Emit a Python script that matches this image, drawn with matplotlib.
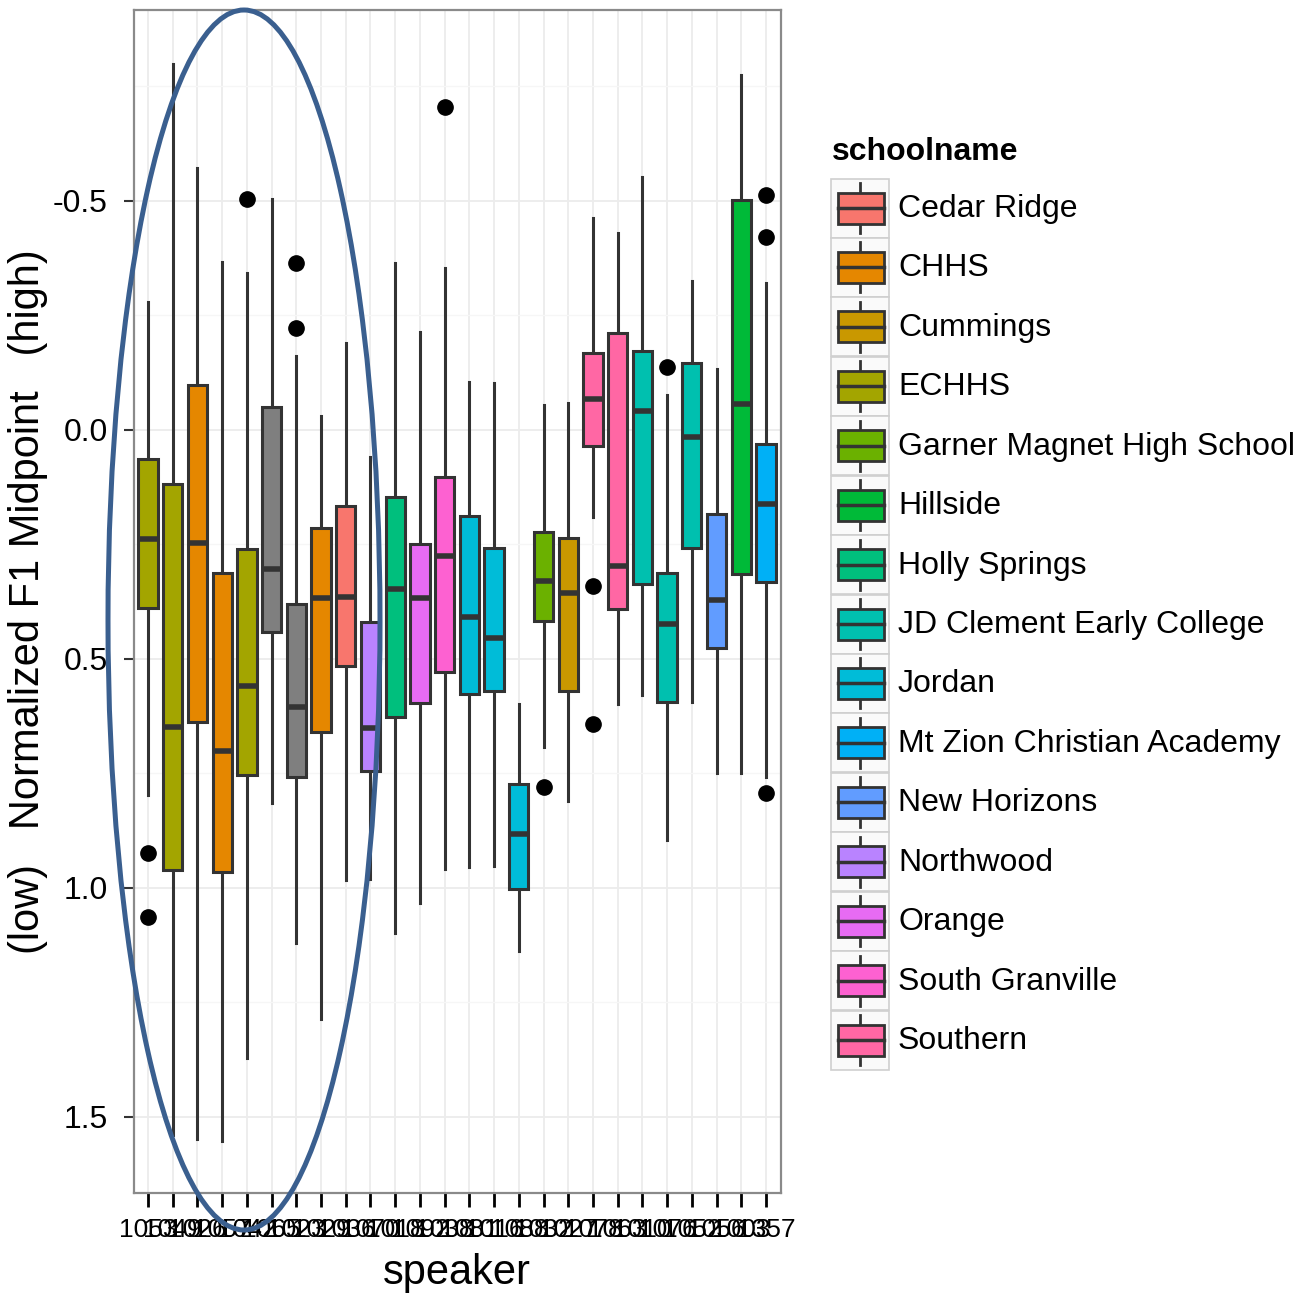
import matplotlib
matplotlib.use("Agg")
import matplotlib.pyplot as plt
from matplotlib.patches import Ellipse, Rectangle

# speakers in plot order, with their school (None = no school, drawn grey)
speakers = ["1053", "1049", "1026", "1057", "1042", "1065", "1023", "1029", "1036", "1070",
            "1018", "1092", "1038", "1081", "1016", "1088", "1032", "1027", "1078", "1063",
            "1010", "1076", "1052", "1056", "1003", "1357"]
schools = ["ECHHS", "ECHHS", "CHHS", "CHHS", "ECHHS", None, None, "CHHS", "Cedar Ridge",
           "Northwood", "Holly Springs", "Orange", "South Granville", "Jordan", "Jordan",
           "Jordan", "Garner Magnet High School", "Cummings", "Southern", "Southern",
           "JD Clement Early College", "JD Clement Early College", "JD Clement Early College",
           "New Horizons", "Hillside", "Mt Zion Christian Academy"]

whis_lo = [-0.28, -0.80, -0.572, -0.367, -0.343, -0.504, -0.162, -0.03, -0.19, 0.059,
           -0.364, -0.213, -0.353, -0.105, -0.102, 0.598, -0.055, -0.06, -0.462, -0.43,
           -0.553, -0.076, -0.325, -0.133, -0.775, -0.32]
q1 = [0.063, 0.118, -0.098, 0.313, 0.259, -0.051, 0.38, 0.214, 0.166, 0.419,
      0.146, 0.249, 0.102, 0.188, 0.258, 0.773, 0.222, 0.235, -0.169, -0.211,
      -0.173, 0.313, -0.146, 0.183, -0.502, 0.031]
med = [0.238, 0.648, 0.247, 0.70, 0.56, 0.303, 0.604, 0.366, 0.364, 0.651,
       0.347, 0.367, 0.275, 0.408, 0.454, 0.883, 0.33, 0.357, -0.068, 0.297,
       -0.042, 0.423, 0.015, 0.371, -0.057, 0.162]
q3 = [0.388, 0.961, 0.637, 0.965, 0.753, 0.441, 0.758, 0.659, 0.515, 0.745,
      0.627, 0.596, 0.528, 0.577, 0.57, 1.003, 0.417, 0.57, 0.035, 0.391,
      0.336, 0.593, 0.257, 0.476, 0.314, 0.332]
whis_hi = [0.797, 1.54, 1.548, 1.552, 1.372, 0.815, 1.12, 1.286, 0.982, 0.98,
           1.098, 1.033, 0.959, 0.954, 0.952, 1.138, 0.692, 0.81, 0.19, 0.598,
           0.579, 0.895, 0.593, 0.75, 0.75, 0.758]
outliers = [[0.924, 1.063], [], [], [], [-0.504], [], [-0.364, -0.223], [], [], [],
            [], [], [-0.705], [], [], [], [0.779], [], [0.34, 0.642], [],
            [], [-0.137], [], [], [], [-0.513, -0.421, 0.792]]

legend_names = ["Cedar Ridge", "CHHS", "Cummings", "ECHHS", "Garner Magnet High School",
                "Hillside", "Holly Springs", "JD Clement Early College", "Jordan",
                "Mt Zion Christian Academy", "New Horizons", "Northwood", "Orange",
                "South Granville", "Southern"]
legend_colors = ["#F8766D", "#E58700", "#C99800", "#A3A500", "#6BB100", "#00BA38", "#00BF7D",
                 "#00C0AF", "#00BCD8", "#00B0F6", "#619CFF", "#B983FF", "#E76BF3", "#FD61D1",
                 "#FF67A4"]
NA_COLOR = "#7F7F7F"
EDGE = "#333333"
FONT = "Liberation Sans"
W, H = 1303, 1295

fig = plt.figure(figsize=(W / 100, H / 100), dpi=100)
ax = fig.add_axes([134 / W, 1 - 1193 / H, 647 / W, 1183 / H])

stats = []
for i in range(len(speakers)):
    stats.append(dict(whislo=whis_lo[i], q1=q1[i], med=med[i], q3=q3[i],
                      whishi=whis_hi[i], fliers=outliers[i]))
pos = list(range(1, len(speakers) + 1))
bp = ax.bxp(stats, positions=pos, widths=0.78, patch_artist=True, showcaps=False,
            boxprops=dict(edgecolor=EDGE, linewidth=2.2),
            medianprops=dict(color=EDGE, linewidth=4),
            whiskerprops=dict(color=EDGE, linewidth=2.2),
            flierprops=dict(marker="o", markerfacecolor="black", markeredgecolor="black",
                            markersize=11))
cmap = dict(zip(legend_names, legend_colors))
for box, s in zip(bp["boxes"], schools):
    box.set_facecolor(cmap.get(s, NA_COLOR))
    box.set_zorder(3)
for m in bp["medians"]:
    m.set_zorder(4)

ax.set_xlim(0.434, 26.607)
ax.set_ylim(1.666, -0.917)
ax.set_xticks(pos)
ax.set_xticklabels(speakers, family=FONT, fontsize=19)
ax.set_yticks([-0.5, 0.0, 0.5, 1.0, 1.5])
ax.set_yticklabels(["-0.5", "0.0", "0.5", "1.0", "1.5"], fontsize=23, family=FONT)
ax.set_yticks([-0.75, -0.25, 0.25, 0.75, 1.25], minor=True)
ax.tick_params(axis="y", which="major", length=7, width=1.5, color=EDGE, pad=12)
ax.tick_params(axis="x", which="major", length=10, width=2, color="black", pad=8)
ax.tick_params(which="minor", length=0)
ax.grid(True, which="major", color="#ececec", linewidth=1.3)
ax.grid(True, which="minor", axis="y", color="#f6f6f6", linewidth=1.0)
ax.set_axisbelow(True)
for sp in ax.spines.values():
    sp.set_color("#8a8a8a")
    sp.set_linewidth(1.6)

# overlay in pixel coordinates for labels, legend and the hand-drawn ellipse
ov = fig.add_axes([0, 0, 1, 1], zorder=10)
ov.set_xlim(0, W)
ov.set_ylim(H, 0)
ov.axis("off")
ov.patch.set_alpha(0)

ov.text(28, 602, "(low)   Normalized F1 Midpoint   (high)", rotation=90, ha="center",
        va="center", fontsize=30, family=FONT)
ov.text(457, 1273, "speaker", ha="center", va="center", fontsize=30, family=FONT)

ov.text(832, 152, "schoolname", ha="left", va="center", fontsize=23, fontweight="bold",
        family=FONT)
step = 59.43
for i, (name, col) in enumerate(zip(legend_names, legend_colors)):
    yc = 208 + step * i
    ov.add_patch(Rectangle((831, yc - 29.5), 58, 59, facecolor="#fafafa", edgecolor="#cfcfcf",
                           linewidth=1.2))
    ov.plot([860, 860], [yc - 25, yc + 25], color=EDGE, linewidth=2)
    ov.add_patch(Rectangle((838, yc - 15.5), 46, 31, facecolor=col, edgecolor=EDGE,
                           linewidth=2, zorder=3))
    ov.plot([838, 884], [yc, yc], color=EDGE, linewidth=2.5, zorder=4)
    ov.text(898, yc + 1, name, ha="left", va="center", fontsize=23, family=FONT)

ov.add_patch(Ellipse((244, 620), 272, 1220, fill=False, edgecolor="#3A5F8F", linewidth=3.6))

fig.savefig("out.png", dpi=100)
